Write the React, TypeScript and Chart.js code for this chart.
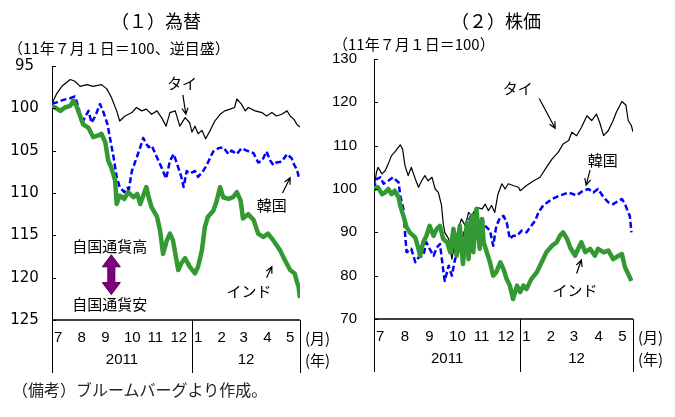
import { useEffect, useRef } from "react";
import { Chart, registerables } from "chart.js";

Chart.register(...registerables);

const JP = '"Noto Sans CJK JP", "Noto Sans", sans-serif';
const NUM = '"Liberation Sans", Arial, sans-serif';

// x values are calendar days counted from 1 July 2011
const monthStarts = [0, 31, 62, 92, 123, 153, 184, 215, 244, 275, 305];
const monthLabels = ["7", "8", "9", "10", "11", "12", "1", "2", "3", "4", "5"];
const yearStarts = [0, 184];
const yearLabels = ["2011", "12"];
const lastDay = 326;

// (1) exchange rates, 1 Jul 2011 = 100, inverted scale
const fxThai: [number, number][] = [
  [0, 99.4], [6, 98.3], [13, 97.4], [24, 96.6], [30, 96.8], [37, 97.4], [46, 97.2], [54, 97.4],
  [65, 97.2], [72, 97.7], [78, 98.7], [85, 100.3], [89, 101.5], [96, 100.9], [105, 100.5],
  [111, 99.9], [118, 100.3], [124, 100.1], [131, 100.7], [138, 100.3], [144, 101.1], [150, 102.1],
  [155, 100.5], [162, 100.3], [168, 102.1], [175, 101.1], [181, 101.7], [184, 102.8], [188, 102.1],
  [192, 103.0], [197, 102.6], [202, 103.6], [208, 102.6], [214, 101.5], [221, 100.7], [227, 100.3],
  [234, 100.1], [240, 99.9], [243, 98.9], [249, 99.5], [254, 100.3], [258, 99.9], [267, 100.3],
  [276, 100.5], [282, 100.9], [289, 100.5], [295, 100.9], [302, 100.7], [309, 100.3], [313, 100.9],
  [318, 101.3], [322, 101.9], [326, 102.2],
];
const fxKorea: [number, number][] = [
  [0, 99.4], [6, 99.3], [15, 99.0], [24, 98.8], [30, 98.6], [35, 99.9], [39, 101.9], [43, 101.1],
  [48, 100.3], [52, 101.7], [57, 100.9], [63, 99.5], [67, 100.3], [73, 101.9], [76, 103.4],
  [81, 105.8], [85, 108.1], [89, 109.3], [95, 109.9], [99, 109.4], [101, 109.6], [105, 107.4],
  [111, 105.9], [116, 104.6], [120, 103.5], [124, 104.2], [127, 104.6], [131, 104.4], [135, 105.2],
  [138, 105.8], [144, 107.0], [150, 108.3], [155, 106.2], [160, 105.4], [166, 107.0], [170, 108.1],
  [173, 109.3], [177, 107.4], [181, 107.7], [188, 107.4], [192, 108.1], [197, 107.6], [203, 106.8],
  [208, 105.8], [212, 105.1], [219, 104.7], [225, 104.6], [232, 105.4], [236, 105.0], [243, 105.4],
  [249, 104.7], [256, 105.0], [265, 105.3], [271, 106.4], [276, 106.2], [282, 105.1], [287, 106.2],
  [291, 106.7], [295, 106.4], [302, 106.3], [309, 105.4], [315, 105.9], [319, 106.8], [322, 107.2],
  [325, 108.4],
];
const fxIndia: [number, number][] = [
  [0, 99.7], [4, 99.9], [11, 100.3], [17, 99.9], [24, 99.7], [28, 99.1], [32, 99.7], [37, 100.9],
  [41, 101.9], [48, 102.3], [54, 103.4], [61, 103.2], [65, 103.0], [70, 104.0], [74, 106.2],
  [78, 107.0], [83, 108.5], [85, 111.3], [89, 110.3], [95, 110.7], [100, 109.9], [107, 110.5],
  [112, 110.1], [116, 111.3], [120, 110.3], [124, 109.3], [127, 110.5], [131, 111.7], [138, 112.8],
  [142, 114.4], [146, 117.2], [151, 115.6], [155, 114.8], [159, 115.6], [166, 119.1], [170, 118.3],
  [175, 117.7], [181, 118.7], [188, 119.5], [192, 118.7], [197, 116.8], [201, 114.0], [205, 112.8],
  [212, 112.1], [216, 111.1], [221, 109.3], [225, 110.5], [232, 110.7], [238, 110.5], [243, 109.9],
  [248, 110.9], [251, 113.0], [258, 112.5], [265, 113.2], [271, 114.8], [278, 115.2], [284, 114.8],
  [291, 115.6], [300, 116.8], [306, 117.9], [313, 119.1], [319, 119.5], [322, 120.5], [324, 121.0],
  [326, 122.4],
];

// (2) stock prices, 1 Jul 2011 = 100
const stockThai: [number, number][] = [
  [0, 100.0], [3, 103.8], [5, 105.0], [10, 103.5], [14, 104.2], [18, 105.8], [22, 107.7], [26, 108.5],
  [33, 110.2], [36, 109.2], [39, 105.4], [43, 103.1], [47, 105.0], [52, 102.3], [56, 100.4], [60, 101.9],
  [64, 103.1], [68, 101.9], [73, 102.7], [77, 100.0], [81, 99.2], [85, 96.2], [87, 92.3], [89, 90.0],
  [94, 88.5], [98, 83.8], [102, 87.7], [106, 90.8], [110, 93.1], [115, 91.5], [119, 94.6], [123, 93.8],
  [129, 95.8], [136, 95.4], [140, 96.5], [144, 95.0], [148, 96.2], [152, 94.6], [156, 98.8], [161, 101.2],
  [165, 100.0], [169, 101.2], [175, 100.8], [182, 100.4], [184, 99.6], [192, 100.8], [201, 101.9],
  [209, 102.7], [217, 105.0], [224, 106.9], [232, 108.5], [238, 110.4], [245, 111.2], [249, 113.1],
  [255, 112.3], [261, 114.2], [268, 116.9], [274, 115.8], [280, 117.3], [284, 115.4], [289, 112.3],
  [295, 113.5], [301, 115.8], [305, 117.7], [312, 120.2], [317, 119.4], [320, 115.8], [324, 114.6],
  [326, 113.2],
];
const stockKorea: [number, number][] = [
  [0, 100.0], [3, 102.3], [8, 102.7], [12, 101.2], [18, 101.9], [24, 102.7], [31, 101.5], [33, 98.5],
  [37, 95.4], [39, 90.0], [41, 85.4], [47, 86.2], [52, 83.1], [56, 84.2], [62, 84.6], [66, 87.7],
  [70, 86.2], [75, 84.6], [79, 86.5], [83, 87.3], [87, 81.5], [89, 78.8], [94, 82.3], [98, 80.0],
  [102, 83.8], [106, 85.4], [112, 89.2], [117, 91.5], [121, 93.5], [125, 93.1], [131, 90.8], [136, 93.1],
  [140, 91.5], [146, 90.4], [150, 86.9], [154, 91.5], [159, 93.5], [163, 93.8], [167, 92.3], [171, 88.5],
  [175, 89.2], [180, 89.2], [186, 90.4], [192, 90.0], [198, 91.5], [203, 92.7], [207, 94.6], [213, 96.2],
  [224, 97.7], [234, 98.5], [245, 99.2], [255, 98.5], [263, 99.6], [270, 100.0], [276, 99.2], [282, 100.0],
  [289, 98.1], [295, 96.9], [301, 96.5], [308, 97.3], [312, 97.7], [316, 96.5], [320, 94.6], [322, 93.8],
  [324, 90.0],
];
const stockIndia: [number, number][] = [
  [0, 100.0], [1, 100.2], [5, 100.4], [10, 98.8], [14, 99.2], [18, 100.0], [22, 98.8], [26, 99.6],
  [31, 98.1], [33, 96.2], [37, 93.8], [41, 91.2], [45, 90.0], [52, 88.8], [56, 86.2], [58, 84.6],
  [62, 87.7], [66, 89.2], [70, 91.5], [75, 89.2], [79, 90.8], [83, 91.5], [87, 88.5], [92, 87.7],
  [96, 85.4], [100, 90.8], [104, 84.6], [108, 91.5], [112, 82.7], [117, 92.3], [119, 83.8], [123, 93.8],
  [125, 85.4], [129, 95.4], [133, 86.2], [136, 93.1], [138, 87.7], [142, 85.4], [146, 83.1], [150, 80.0],
  [154, 80.8], [159, 83.1], [163, 81.5], [167, 79.2], [171, 77.7], [175, 74.6], [180, 77.7], [184, 76.2],
  [188, 77.7], [192, 76.9], [198, 79.2], [205, 80.8], [211, 83.1], [217, 85.4], [224, 86.9], [230, 87.7],
  [234, 89.2], [238, 90.0], [243, 88.5], [247, 86.5], [253, 84.6], [257, 86.2], [261, 87.7], [266, 85.4],
  [272, 86.2], [278, 84.6], [282, 86.2], [289, 85.4], [295, 85.8], [301, 83.8], [308, 84.6], [312, 85.0],
  [316, 81.9], [320, 80.4], [324, 78.8],
];

const GREEN = "#339933";
const BLUE = "#0000ff";
const BLACK = "#000000";

type Series = { data: [number, number][]; color: string; width: number; dash?: number[] };
type Note = { text: string; at: [number, number] };
type Pointer = { from: [number, number]; to: [number, number] };

interface PanelProps {
  left: number;
  width: number;
  height: number;
  plot: { left: number; right: number; top: number; bottom: number };
  yMin: number;
  yMax: number;
  yStep: number;
  reverse: boolean;
  tickFont: string;
  tickAlign: CanvasTextAlign;
  tickX: number;
  series: Series[];
  notes: Note[];
  pointers: Pointer[];
  doubleArrow?: { day: number; from: number; to: number };
}

function Panel(p: PanelProps) {
  const ref = useRef<HTMLCanvasElement | null>(null);

  useEffect(() => {
    const canvas = ref.current;
    if (!canvas) return;

    const decor = {
      id: "decor",
      afterDraw(chart: Chart) {
        const { ctx, chartArea: a } = chart;
        const xs = chart.scales.x;
        const ys = chart.scales.y;
        const px = (d: number) => xs.getPixelForValue(d);
        const py = (v: number) => ys.getPixelForValue(v);
        ctx.save();

        // inside tick marks and tick labels on the value axis
        ctx.strokeStyle = "#000";
        ctx.lineWidth = 1;
        ctx.fillStyle = "#000";
        ctx.font = p.tickFont;
        ctx.textAlign = p.tickAlign;
        ctx.textBaseline = "middle";
        ys.ticks.forEach((t) => {
          const y = Math.round(py(t.value)) + 0.5;
          ctx.beginPath();
          ctx.moveTo(a.left, y);
          ctx.lineTo(a.left + 4, y);
          ctx.stroke();
          ctx.fillText(String(t.value), p.tickX, py(t.value));
        });

        // time axis with the month / year table below it
        const x0 = px(0);
        const x1 = px(lastDay);
        ctx.lineWidth = 1.5;
        ctx.beginPath();
        ctx.moveTo(x0, a.bottom);
        ctx.lineTo(x1, a.bottom);
        ctx.stroke();
        ctx.lineWidth = 1;
        [...yearStarts, lastDay].forEach((d) => {
          const x = Math.round(px(d)) + 0.5;
          ctx.beginPath();
          ctx.moveTo(x, a.bottom);
          ctx.lineTo(x, a.bottom + 53);
          ctx.stroke();
        });
        ctx.font = `15px ${NUM}`;
        ctx.textAlign = "left";
        monthLabels.forEach((m, i) => {
          ctx.fillText(m, px(monthStarts[i]) + 2, a.bottom + 18);
        });
        ctx.textAlign = "center";
        yearLabels.forEach((yl, i) => {
          const end = i + 1 < yearStarts.length ? yearStarts[i + 1] : lastDay;
          ctx.fillText(yl, (px(yearStarts[i]) + px(end)) / 2, a.bottom + 40);
        });
        ctx.font = `15px ${JP}`;
        ctx.textAlign = "left";
        ctx.fillText("(月)", x1 + 5, a.bottom + 18);
        ctx.fillText("(年)", x1 + 5, a.bottom + 40);

        // series labels and pointers
        ctx.textAlign = "center";
        p.notes.forEach((n) => ctx.fillText(n.text, px(n.at[0]), py(n.at[1])));
        ctx.lineWidth = 1.2;
        p.pointers.forEach((r) => {
          const fx = px(r.from[0]);
          const fy = py(r.from[1]);
          const tx = px(r.to[0]);
          const ty = py(r.to[1]);
          const ang = Math.atan2(ty - fy, tx - fx);
          ctx.beginPath();
          ctx.moveTo(fx, fy);
          ctx.lineTo(tx, ty);
          ctx.moveTo(tx - 7 * Math.cos(ang - 0.45), ty - 7 * Math.sin(ang - 0.45));
          ctx.lineTo(tx, ty);
          ctx.lineTo(tx - 7 * Math.cos(ang + 0.45), ty - 7 * Math.sin(ang + 0.45));
          ctx.stroke();
        });

        // two-headed arrow between the currency notes
        if (p.doubleArrow) {
          const cx = px(p.doubleArrow.day);
          const ya = py(p.doubleArrow.from);
          const yb = py(p.doubleArrow.to);
          const hw = 9;
          const sw = 3.5;
          const hl = 12;
          ctx.beginPath();
          ctx.moveTo(cx, ya);
          ctx.lineTo(cx + hw, ya + hl);
          ctx.lineTo(cx + sw, ya + hl);
          ctx.lineTo(cx + sw, yb - hl);
          ctx.lineTo(cx + hw, yb - hl);
          ctx.lineTo(cx, yb);
          ctx.lineTo(cx - hw, yb - hl);
          ctx.lineTo(cx - sw, yb - hl);
          ctx.lineTo(cx - sw, ya + hl);
          ctx.lineTo(cx - hw, ya + hl);
          ctx.closePath();
          ctx.fillStyle = "#800080";
          ctx.fill();
          ctx.strokeStyle = "#4b004b";
          ctx.lineWidth = 1;
          ctx.stroke();
        }
        ctx.restore();
      },
    };

    const chart = new Chart(canvas, {
      type: "line",
      data: {
        datasets: p.series.map((s) => ({
          data: s.data.map(([d, v]) => ({ x: d, y: v })),
          borderColor: s.color,
          borderWidth: s.width,
          borderDash: s.dash ?? [],
          borderJoinStyle: "round" as const,
          pointRadius: 0,
          tension: 0,
          fill: false,
        })),
      },
      options: {
        animation: false,
        responsive: false,
        events: [],
        layout: {
          padding: {
            left: 0,
            top: p.plot.top,
            right: p.width - p.plot.right,
            bottom: p.height - p.plot.bottom,
          },
        },
        plugins: { legend: { display: false }, tooltip: { enabled: false } },
        scales: {
          x: { type: "linear", display: false, min: 0, max: lastDay },
          y: {
            min: p.yMin,
            max: p.yMax,
            reverse: p.reverse,
            afterFit: (s: any) => {
              s.width = p.plot.left;
            },
            ticks: { display: false, stepSize: p.yStep },
            grid: { drawOnChartArea: false, drawTicks: false },
            border: { display: true, color: "#000", width: 1 },
          },
        },
      },
      plugins: [decor],
    });
    return () => chart.destroy();
  }, []);

  return (
    <canvas
      ref={ref}
      width={p.width}
      height={p.height}
      style={{ position: "absolute", left: p.left, top: 0, width: p.width, height: p.height }}
    />
  );
}

const textStyle = (x: number, y: number, size: number, center = false): React.CSSProperties => ({
  position: "absolute",
  left: x,
  top: y,
  transform: center ? "translate(-50%, -50%)" : "translateY(-50%)",
  fontFamily: JP,
  fontSize: size,
  lineHeight: 1,
  whiteSpace: "nowrap",
  color: "#000",
});

export default function App() {
  return (
    <div
      style={{
        position: "fixed",
        left: 0,
        top: 0,
        width: 675,
        height: 417,
        background: "#fff",
        overflow: "hidden",
      }}
    >
      <Panel
        left={0}
        width={337}
        height={417}
        plot={{ left: 52, right: 300, top: 66, bottom: 320 }}
        yMin={95}
        yMax={125}
        yStep={5}
        reverse={true}
        tickFont={`15px "DejaVu Sans", ${NUM}`}
        tickAlign="center"
        tickX={24.5}
        series={[
          { data: fxIndia, color: GREEN, width: 4.5 },
          { data: fxKorea, color: BLUE, width: 2.5, dash: [6, 3] },
          { data: fxThai, color: BLACK, width: 1.2 },
        ]}
        notes={[
          { text: "タイ", at: [171, 97.0] },
          { text: "韓国", at: [289, 111.4] },
          { text: "インド", at: [259, 121.6] },
          { text: "自国通貨高", at: [76, 116.3] },
          { text: "自国通貨安", at: [76, 123.2] },
        ]}
        pointers={[
          { from: [172, 98.4], to: [176, 100.7] },
          { from: [303, 110.0], to: [313, 108.2] },
          { from: [282, 120.0], to: [289, 118.7] },
        ]}
        doubleArrow={{ day: 78, from: 117.3, to: 122.0 }}
      />
      <Panel
        left={322}
        width={353}
        height={417}
        plot={{ left: 52, right: 311, top: 59, bottom: 319 }}
        yMin={70}
        yMax={130}
        yStep={10}
        reverse={false}
        tickFont={`15px ${NUM}`}
        tickAlign="right"
        tickX={35}
        series={[
          { data: stockIndia, color: GREEN, width: 4.5 },
          { data: stockKorea, color: BLUE, width: 2.5, dash: [6, 3] },
          { data: stockThai, color: BLACK, width: 1.2 },
        ]}
        notes={[
          { text: "タイ", at: [181, 123.3] },
          { text: "韓国", at: [288, 106.7] },
          { text: "インド", at: [253, 76.7] },
        ]}
        pointers={[
          { from: [208, 120.9], to: [228, 114.0] },
          { from: [272, 104.4], to: [267, 100.9] },
          { from: [255, 80.5], to: [261, 83.6] },
        ]}
      />
      <div style={textStyle(156, 20, 18, true)}>（１）為替</div>
      <div style={textStyle(8, 47, 15)}>（11年７月１日＝100、逆目盛）</div>
      <div style={textStyle(496, 20, 18, true)}>（２）株価</div>
      <div style={textStyle(333, 43, 15)}>（11年７月１日＝100）</div>
      <div style={{ ...textStyle(12, 389, 16), color: "#222" }}>（備考）ブルームバーグより作成。</div>
    </div>
  );
}
